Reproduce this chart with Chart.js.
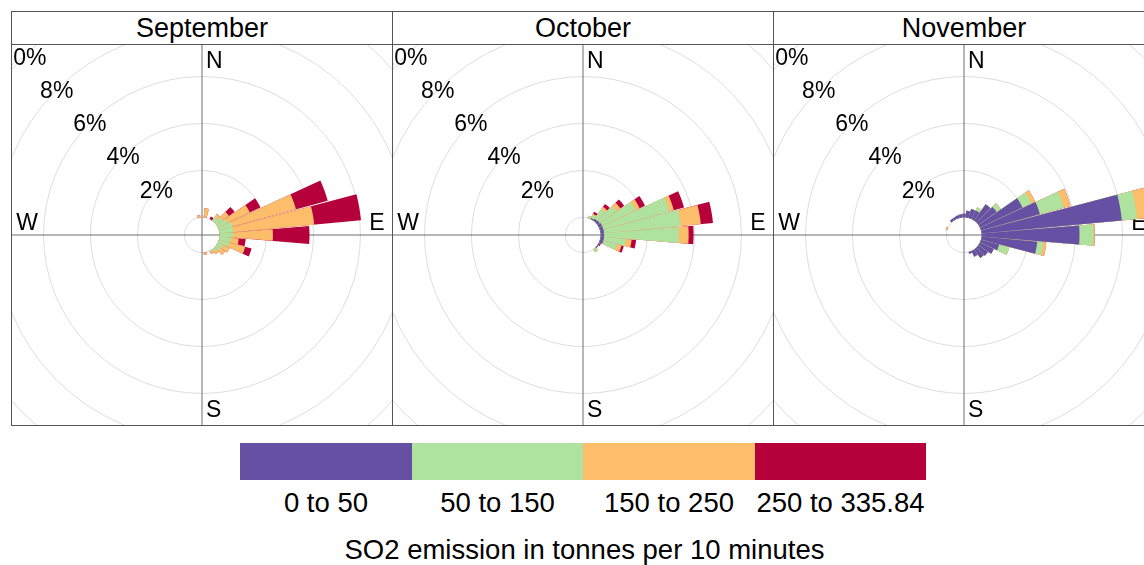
<!DOCTYPE html>
<html>
<head>
<meta charset="utf-8">
<script src="https://cdn.jsdelivr.net/npm/chart.js@4/dist/chart.umd.min.js"></script>
<style>
  html, body { margin: 0; padding: 0; background: #fff; width: 1144px; height: 565px; overflow: hidden; }
  body { font-family: "Liberation Sans", Arial, Helvetica, sans-serif; color: #000; position: relative; }
  .col { position: absolute; top: 11px; width: 382px; height: 415px; border: 1px solid #555; box-sizing: border-box; }
  .strip { position: absolute; left: 0; top: 0; width: 100%; height: 33px; border-bottom: 1px solid #555;
           box-sizing: border-box; text-align: center; font-size: 27px; line-height: 32px; }
  .plot { position: absolute; left: 0; top: 33px; width: 380px; height: 380px; overflow: hidden; }
  .plot canvas { position: absolute; left: -80px; top: -80px; }
  .key { position: absolute; top: 443px; height: 37px; }
  .keylab { position: absolute; top: 486px; width: 220px; text-align: center; font-size: 27.5px; line-height: 34px; white-space: nowrap; }
  .keytitle { position: absolute; left: 0; width: 1169px; top: 533px; text-align: center; font-size: 27.5px; line-height: 34px; }
</style>
</head>
<body>
<div id="panels"></div>
<div id="key"></div>
<script>
// Wind direction bins (degrees, bin centres) and concentration bands
const DIRECTIONS = [10, 20, 30, 40, 50, 60, 70, 80, 90, 100, 110, 120,
                    130, 140, 150, 160, 170, 180, 190, 200, 210, 220, 230, 240,
                    250, 260, 270, 280, 290, 300, 310, 320, 330, 340, 350, 360];
const BANDS = ['0 to 50', '50 to 150', '150 to 250', '250 to 335.84'];
const BAND_COLORS = ['#6550A3', '#AFE19F', '#FCBE6A', '#B5003C'];
const MONTHS = ['September', 'October', 'November'];
const RADIAL_TICKS = [0, 2, 4, 6, 8, 10];
const KEY_TITLE = 'SO2 emission in tonnes per 10 minutes';

// Frequency (% of time) per direction bin, one list per band
// September
const sepBand1 = [0,0,0,0,0,0,0,0,0,0,0,0, 0,0,0,0,0,0,0,0,0,0,0,0, 0,0,0,0,0,0,0,0,0,0,0,0];
const sepBand2 = [0,0,0,0.2,0.3,0.45,0.6,0.6,0.6,0.5,0.45,0.25, 0.2,0.1,0.05,0,0,0,0,0,0,0,0,0, 0,0,0,0,0,0,0,0,0,0,0,0];
const sepBand3 = [0.4,0,0,0.15,0.35,1.05,2.8,3.45,1.67,0.32,0.71,0.3, 0.25,0.15,0.1,0,0.1,0,0,0,0,0,0,0, 0,0,0,0,0,0,0,0,0,0,0.1,0];
const sepBand4 = [0,0,0.12,0,0.3,0.5,1.4,2.0,1.56,0.3,0.28,0, 0,0,0,0,0,0,0,0,0,0,0,0, 0,0,0,0,0,0,0,0,0,0,0,0];
// October
const octBand1 = [0,0,0.05,0.1,0.12,0.15,0.15,0.15,0.15,0.15,0.15,0.05, 0.05,0,0,0,0,0,0,0,0,0,0,0, 0,0,0,0,0,0,0,0,0,0,0,0];
const octBand2 = [0,0.1,0.15,0.5,0.88,1.57,2.91,3.27,3.18,0.93,0.6,0, 0,0.15,0,0,0,0,0,0,0,0,0,0, 0,0,0,0,0,0,0,0,0,0,0,0];
const octBand3 = [0,0,0.05,0.12,0.2,0.2,0.2,0.87,0.42,0.25,0.2,0, 0,0,0,0,0,0,0,0,0,0,0,0, 0,0,0,0,0,0,0,0,0,0,0,0];
const octBand4 = [0,0,0.1,0.15,0.2,0.25,0.45,0.52,0.21,0.19,0.1,0.05, 0,0,0,0,0,0,0,0,0,0,0,0, 0,0,0,0,0,0,0,0,0,0,0,0];
// November
const novBand1 = [0.29,0.4,0.4,0.85,0.95,2.0,2.6,6.0,4.17,2.38,0.8,0.65, 0.5,0.45,0.27,0.08,0,0,0,0,0,0,0,0, 0,0,0,0,0,0,0,0.1,0.1,0.12,0.14,0.16];
const novBand2 = [0,0,0.15,0,0.22,0.42,1.05,0.65,0.6,0.26,0.45,0, 0,0,0,0,0,0,0,0,0,0,0,0, 0,0,0,0,0,0,0,0,0,0,0,0];
const novBand3 = [0,0,0,0,0,0.18,0.3,0.6,0.05,0.13,0,0, 0,0,0,0,0,0,0,0,0,0,0,0, 0,0,0,0,0.06,0,0,0,0,0,0,0];
const novBand4 = [0,0,0,0,0,0,0,0,0,0,0,0, 0,0,0,0,0,0,0,0,0,0,0,0, 0,0,0,0,0,0,0,0,0,0,0,0];

const MONTH_BANDS = [
  [sepBand1, sepBand2, sepBand3, sepBand4],
  [octBand1, octBand2, octBand3, octBand4],
  [novBand1, novBand2, novBand3, novBand4]
];

// Radial scale: 0 % sits on the edge of the central hole
const R_MIN = -0.75;
const R_MAX = 10.75;
const WEDGE_GAP = 0.0045; // radians trimmed from each side of a wedge

// Polar-area variant: each wedge is centred on its bin angle and starts at the hole edge.
class StackedRoseController extends Chart.PolarAreaController {
  static id = 'stackedRose';
  static defaults = Chart.PolarAreaController.defaults;
  static overrides = Chart.PolarAreaController.overrides;
  updateElements(arcs, start, count, mode) {
    const scale = this._cachedMeta.rScale;
    const half = Math.PI / DIRECTIONS.length - WEDGE_GAP;
    const inner = scale.getDistanceFromCenterForValue(0);
    for (let i = start; i < start + count; i++) {
      const mid = scale.getIndexAngle(i) - Math.PI / 2;
      const value = this.getParsed(i).r;
      const outer = value > 0 ? scale.getDistanceFromCenterForValue(value) : inner;
      this.updateElement(arcs[i], i, {
        x: scale.xCenter,
        y: scale.yCenter,
        innerRadius: inner,
        outerRadius: outer,
        startAngle: mid - half,
        endAngle: mid + half,
        options: this.resolveDataElementOptions(i, mode)
      }, mode);
    }
  }
}
Chart.register(StackedRoseController);

// Percentage labels along the north-west diagonal and compass letters
const roseText = {
  id: 'roseText',
  beforeDatasetsDraw(chart) {
    const s = chart.scales.r;
    const ctx = chart.ctx;
    ctx.save();
    ctx.font = '23px "Liberation Sans", Arial, sans-serif';
    ctx.fillStyle = '#000';
    ctx.textBaseline = 'middle';
    ctx.textAlign = 'center';
    RADIAL_TICKS.slice(1).forEach(v => {
      const d = s.getDistanceFromCenterForValue(v) / Math.SQRT2;
      ctx.fillText(v + '%', s.xCenter - d, s.yCenter - d + 2);
    });
    const R = 175;
    ctx.textAlign = 'left';
    ctx.fillText('N', s.xCenter + 4, s.yCenter - R + 2);
    ctx.fillText('S', s.xCenter + 4, s.yCenter + R + 1);
    ctx.textAlign = 'center';
    ctx.fillText('E', s.xCenter + R, s.yCenter - 11);
    ctx.fillText('W', s.xCenter - R, s.yCenter - 11);
    ctx.restore();
  }
};

const panels = document.getElementById('panels');
MONTHS.forEach((month, k) => {
  const col = document.createElement('div');
  col.className = 'col';
  col.style.left = (11 + 381 * k) + 'px';
  const strip = document.createElement('div');
  strip.className = 'strip';
  strip.textContent = month;
  const plot = document.createElement('div');
  plot.className = 'plot';
  const canvas = document.createElement('canvas');
  canvas.width = 540; canvas.height = 540;
  canvas.style.width = '540px'; canvas.style.height = '540px';
  plot.appendChild(canvas);
  col.appendChild(strip);
  col.appendChild(plot);
  panels.appendChild(col);

  // cumulative totals so lower bands are drawn on top of higher ones
  const bands = MONTH_BANDS[k];
  let running = DIRECTIONS.map(() => 0);
  const datasets = bands.map((band, b) => {
    running = running.map((v, i) => v + band[i]);
    return {
      label: BANDS[b],
      data: running.slice(),
      backgroundColor: BAND_COLORS[b],
      borderWidth: 0
    };
  });

  new Chart(canvas, {
    type: 'stackedRose',
    data: { labels: DIRECTIONS.map(String), datasets },
    options: {
      responsive: false,
      animation: false,
      devicePixelRatio: 1,
      events: [],
      layout: { padding: 0 },
      plugins: { legend: { display: false }, tooltip: { enabled: false } },
      scales: {
        r: {
          min: R_MIN,
          max: R_MAX,
          startAngle: 10,
          afterBuildTicks: scale => { scale.ticks = RADIAL_TICKS.map(v => ({ value: v })); },
          ticks: { display: false },
          grid: { circular: true, color: '#dddddd', lineWidth: 1 },
          angleLines: {
            display: true,
            color: '#6e6e6e',
            lineWidth: ctx => (ctx.index % 9 === 8 ? 1 : 0)
          },
          pointLabels: { display: false }
        }
      }
    },
    plugins: [roseText]
  });
});

// Colour key
const key = document.getElementById('key');
const KEY_LEFT = 240, KEY_WIDTH = 686;
BANDS.forEach((label, b) => {
  const x0 = Math.round(KEY_LEFT + KEY_WIDTH * b / BANDS.length);
  const x1 = Math.round(KEY_LEFT + KEY_WIDTH * (b + 1) / BANDS.length);
  const box = document.createElement('div');
  box.className = 'key';
  box.style.left = x0 + 'px';
  box.style.width = (x1 - x0) + 'px';
  box.style.background = BAND_COLORS[b];
  key.appendChild(box);
  const lab = document.createElement('div');
  lab.className = 'keylab';
  lab.style.left = ((x0 + x1) / 2 - 110) + 'px';
  lab.textContent = label;
  key.appendChild(lab);
});
const title = document.createElement('div');
title.className = 'keytitle';
title.textContent = KEY_TITLE;
key.appendChild(title);
</script>
</body>
</html>
